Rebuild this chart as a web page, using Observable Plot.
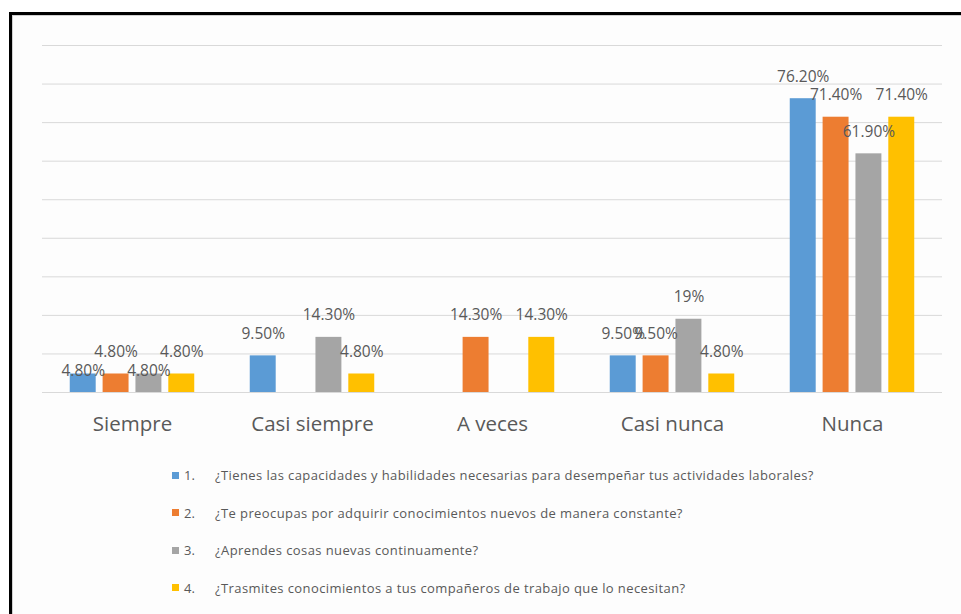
<!DOCTYPE html>
<html>
<head>
<meta charset="utf-8">
<script src="https://cdn.jsdelivr.net/npm/d3@7"></script>
<script src="https://cdn.jsdelivr.net/npm/@observablehq/plot@0.6"></script>
<style>
  html, body { margin: 0; padding: 0; background: #fff; overflow: hidden; }
  body { width: 961px; height: 614px; position: relative; font-family: "Open Sans", sans-serif; }
  #frame { position: absolute; left: 9px; top: 12px; width: 1000px; height: 700px;
           border-left: 3px solid #000; border-top: 3px solid #000; background: #fdfdfd;
           box-shadow: inset 1px 1px 0 #d0d0d0; }
  #chart { position: absolute; left: 0; top: 0; }
  #legend { position: absolute; left: 0; top: 0; }
  .row { position: absolute; left: 172px; height: 20px; display: flex; align-items: center;
         font-size: 13px; letter-spacing: 0.4px; color: #595959; white-space: nowrap; }
  .sw { width: 7px; height: 7px; margin-right: 5px; }
  .num { width: 31px; letter-spacing: 0; }
</style>
</head>
<body>
<div id="frame"></div>
<div id="chart"></div>
<div id="legend"></div>
<script>
const categories = ["Siempre", "Casi siempre", "A veces", "Casi nunca", "Nunca"];
const seriesNames = [
  "¿Tienes las capacidades y habilidades necesarias para desempeñar tus actividades laborales?",
  "¿Te preocupas por adquirir conocimientos nuevos de manera constante?",
  "¿Aprendes cosas nuevas continuamente?",
  "¿Trasmites conocimientos a tus compañeros de trabajo que lo necesitan?"
];
const seriesNumbers = ["1.", "2.", "3.", "4."];
const q1 = [4.8, 9.5, null, 9.5, 76.2];
const q2 = [4.8, null, 14.3, 9.5, 71.4];
const q3 = [4.8, 14.3, null, 19, 61.9];
const q4 = [4.8, 4.8, 14.3, 4.8, 71.4];
const colors = ["#5B9BD5", "#ED7D31", "#A5A5A5", "#FFC000"];
const gridTicks = [10, 20, 30, 40, 50, 60, 70, 80, 90];

const allSeries = [q1, q2, q3, q4];
const data = [];
categories.forEach((c, ci) => {
  allSeries.forEach((s, si) => {
    if (s[ci] != null) data.push({cat: c, ser: seriesNumbers[si], si, value: s[ci]});
  });
});
const fmt = v => (Math.round(v) === v ? v + "%" : v.toFixed(2) + "%");
const lowered = d => d.cat === "Siempre" && (d.si === 0 || d.si === 2);

const plot = Plot.plot({
  width: 961,
  height: 440,
  marginLeft: 40,
  marginRight: 17,
  marginTop: 45,
  marginBottom: 48,
  style: {fontFamily: "'Open Sans', sans-serif", color: "#595959", background: "transparent"},
  fx: {domain: categories, padding: 0, label: null, axis: null},
  x: {domain: seriesNumbers, paddingInner: 0.21, paddingOuter: 0.845, round: false, axis: null},
  y: {domain: [0, 90], axis: null},
  color: {domain: seriesNumbers, range: colors},
  marks: [
    Plot.ruleY(gridTicks, {stroke: "#d9d9d9", strokeWidth: 1}),
    Plot.ruleY([0], {stroke: "#d9d9d9", strokeWidth: 1}),
    Plot.barY(data, {fx: "cat", x: "ser", y: "value", fill: "ser"}),
    Plot.text(data.filter(d => !lowered(d)), {fx: "cat", x: "ser", y: "value", text: d => fmt(d.value), dy: -22, fill: "#595959", fontSize: 15.5}),
    Plot.text(data.filter(lowered), {fx: "cat", x: "ser", y: "value", text: d => fmt(d.value), dy: -3, fill: "#595959", fontSize: 15.5}),
    Plot.axisFx({anchor: "bottom", tickSize: 0, tickPadding: 24, fontSize: 20.5, label: null, fill: "#595959"})
  ]
});
document.getElementById("chart").appendChild(plot);

const legend = document.getElementById("legend");
seriesNames.forEach((name, i) => {
  const row = document.createElement("div");
  row.className = "row";
  row.style.top = (465 + i * 37.5) + "px";
  const sw = document.createElement("span");
  sw.className = "sw";
  sw.style.background = colors[i];
  const num = document.createElement("span");
  num.className = "num";
  num.textContent = seriesNumbers[i];
  const txt = document.createElement("span");
  txt.textContent = name;
  row.appendChild(sw); row.appendChild(num); row.appendChild(txt);
  legend.appendChild(row);
});
</script>
</body>
</html>
